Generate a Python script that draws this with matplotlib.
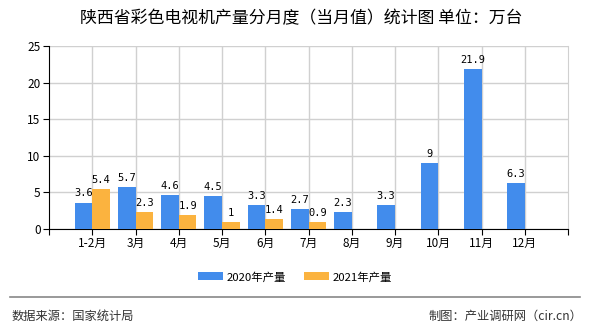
import matplotlib
matplotlib.use("Agg")
import matplotlib.pyplot as plt
import numpy as np

plt.rcParams['font.family'] = ['Noto Sans CJK SC', 'DejaVu Sans']

categories = ["1-2月", "3月", "4月", "5月", "6月", "7月", "8月", "9月", "10月", "11月", "12月"]
prod_2020 = [3.6, 5.7, 4.6, 4.5, 3.3, 2.7, 2.3, 3.3, 9, 21.9, 6.3]
prod_2021 = [5.4, 2.3, 1.9, 1, 1.4, 0.9, None, None, None, None, None]
series_names = ["2020年产量", "2021年产量"]
title = "陕西省彩色电视机产量分月度（当月值）统计图 单位：万台"

c_blue = "#428CEC"
c_orange = "#FBB33F"

fig = plt.figure(figsize=(5.9, 3.3), dpi=100)
ax = fig.add_axes([49/590, 1-229/330, (568-49)/590, (229-46)/330])

x = np.arange(len(categories))
w = 0.41
b1 = ax.bar(x - w, prod_2020, width=w, align='edge', color=c_blue, label=series_names[0], zorder=3)
x21 = [xi for xi, v in zip(x, prod_2021) if v is not None]
v21 = [v for v in prod_2021 if v is not None]
b2 = ax.bar(np.array(x21), v21, width=w, align='edge', color=c_orange, label=series_names[1], zorder=3)

def fmt(v):
    return ("%g" % v)

for xi, v in zip(x, prod_2020):
    ax.annotate(fmt(v), (xi - w/2, v), xytext=(0, 3), textcoords='offset points',
                ha='center', va='bottom', fontsize=7.5, family='DejaVu Sans Mono', zorder=4)
for xi, v in zip(x21, v21):
    ax.annotate(fmt(v), (xi + w/2, v), xytext=(0, 3), textcoords='offset points',
                ha='center', va='bottom', fontsize=7.5, family='DejaVu Sans Mono', zorder=4)

ax.set_xlim(-1, len(categories))
ax.set_ylim(0, 25)
ax.set_yticks([0, 5, 10, 15, 20, 25])
ax.set_xticks(x)
ax.set_xticklabels(categories, fontsize=8.5)
ax.set_xticks([-1, len(categories)], minor=True)
ax.tick_params(axis='x', which='both', length=4, direction='out', width=0.8, pad=2)
ax.tick_params(axis='y', length=4, labelsize=8.5, pad=2)
ax.grid(True, color='#d0d0d0', linewidth=1, zorder=0)
ax.spines['top'].set_visible(False)
ax.spines['right'].set_color('#d0d0d0')
ax.spines['left'].set_color('black')
ax.spines['bottom'].set_color('black')
ax.set_axisbelow(True)

fig.text(0.51, 1-18/330, title, ha='center', va='center', fontsize=12.2)

fig.legend(handles=[b1, b2], labels=series_names, loc='center', bbox_to_anchor=(0.5, 1-277/330),
           ncol=2, frameon=False, fontsize=8.2, handlelength=2.2, handleheight=0.7,
           columnspacing=1.6, handletextpad=0.3)

fig.add_artist(plt.Line2D([10/590, 580/590], [1-297/330, 1-297/330], color='#888888', linewidth=1.2))
fig.text(12/590, 1-316/330, "数据来源：国家统计局", ha='left', va='center', fontsize=8.8, color='#333333')
fig.text(582/590, 1-316/330, "制图：产业调研网（cir.cn）", ha='right', va='center', fontsize=8.8, color='#333333')

fig.savefig("out.png", dpi=100)
